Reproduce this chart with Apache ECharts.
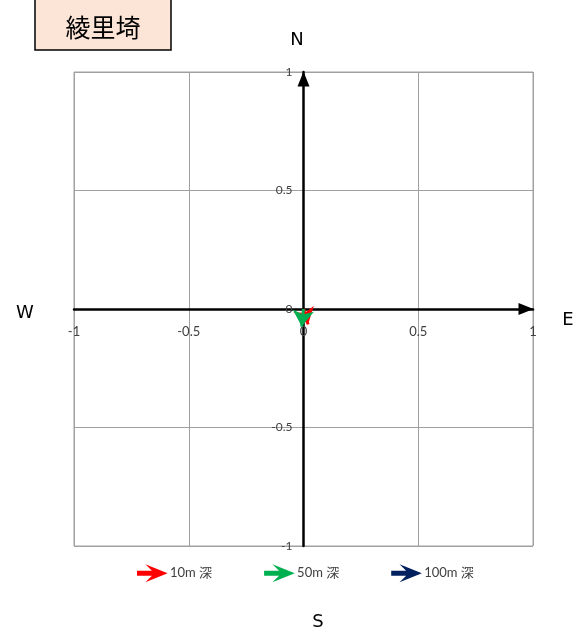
<!DOCTYPE html>
<html>
<head>
<meta charset="utf-8">
<script src="https://cdn.jsdelivr.net/npm/echarts@6/dist/echarts.min.js"></script>
<style>
  html, body { margin: 0; padding: 0; background: #fff; }
  #chart { width: 577px; height: 631px; }
</style>
</head>
<body>
<div id="chart"></div>
<script>
// 流向ベクトル (東向き成分, 北向き成分)
const depthNames = ['10m 深', '50m 深', '100m 深'];
const eastVals = [0.02, -0.008, 0];
const northVals = [-0.065, -0.074, 0];
const arrowColors = ['#ff0000', '#00b050', '#002060'];
const axisTicks = [-1, -0.5, 0, 0.5, 1];

const chart = echarts.init(document.getElementById('chart'));

const gridLeft = 74, gridRight = 44, gridTop = 72, gridBottom = 85;
const gridW = 577 - gridLeft - gridRight;
const gridH = 631 - gridTop - gridBottom;

const arrowIcon = 'path://M0,5 L17,5 L12,0 L28,6.5 L12,13 L17,8 L0,8 Z';

const series = depthNames.map(function (name, i) {
  const hasVec = eastVals[i] !== 0 || northVals[i] !== 0;
  return {
    name: name,
    type: 'lines',
    coordinateSystem: 'cartesian2d',
    z: 10 + (i === 1 ? 3 : i === 0 ? 2 : 1),
    symbol: ['none', 'arrow'],
    symbolSize: 16,
    lineStyle: { color: arrowColors[i], width: 3, opacity: 1 },
    itemStyle: { color: arrowColors[i] },
    data: hasVec ? [{ coords: [[0, 0], [eastVals[i], northVals[i]]] }] : []
  };
});

// axes are shifted into the middle of the grid so they cross at 0
const valueAxis = function (labelMargin, offset, fontSize) {
  return {
    type: 'value',
    min: axisTicks[0],
    max: axisTicks[axisTicks.length - 1],
    interval: 0.5,
    offset: offset,
    axisLine: {
      onZero: false,
      symbol: ['none', 'triangle'],
      symbolSize: [12, 15],
      symbolOffset: [0, -7],
      lineStyle: { color: '#000', width: 2.5 }
    },
    axisTick: { show: false },
    axisLabel: {
      margin: labelMargin,
      color: '#404040',
      fontSize: fontSize,
      fontFamily: 'Lato, sans-serif'
    },
    splitLine: { lineStyle: { color: '#a0a0a0', width: 1 } }
  };
};

chart.setOption({
  animation: false,
  grid: {
    left: gridLeft, right: gridRight, top: gridTop, bottom: gridBottom,
    show: true, borderColor: '#a0a0a0', borderWidth: 1
  },
  xAxis: valueAxis(16, -gridH / 2, 13),
  yAxis: valueAxis(11, -gridW / 2, 12),
  legend: {
    left: 132,
    top: 561,
    itemWidth: 27,
    itemHeight: 13,
    itemGap: 52,
    data: depthNames.map(function (n) { return { name: n, icon: arrowIcon }; }),
    textStyle: { color: '#404040', fontSize: 13, fontFamily: 'Lato, "Noto Sans CJK JP", sans-serif' }
  },
  graphic: [
    {
      type: 'rect',
      shape: { x: 35, y: -2, width: 136, height: 52 },
      style: { fill: '#fce4d6', stroke: '#000', lineWidth: 1.5 }
    },
    {
      type: 'text', x: 103, y: 27,
      style: { text: '綾里埼', fontSize: 25, fill: '#000', align: 'center', verticalAlign: 'middle',
        fontFamily: '"Noto Sans CJK JP", sans-serif' }
    },
    { type: 'text', x: 297, y: 40, style: { text: 'N', fontSize: 18, fill: '#000', align: 'center', verticalAlign: 'middle', fontFamily: '"DejaVu Sans", sans-serif' } },
    { type: 'text', x: 318, y: 622, style: { text: 'S', fontSize: 18, fill: '#000', align: 'center', verticalAlign: 'middle', fontFamily: '"DejaVu Sans", sans-serif' } },
    { type: 'text', x: 25, y: 313, style: { text: 'W', fontSize: 18, fill: '#000', align: 'center', verticalAlign: 'middle', fontFamily: '"DejaVu Sans", sans-serif' } },
    { type: 'text', x: 568, y: 320, style: { text: 'E', fontSize: 18, fill: '#000', align: 'center', verticalAlign: 'middle', fontFamily: '"DejaVu Sans", sans-serif' } }
  ],
  series: series
});
</script>
</body>
</html>
